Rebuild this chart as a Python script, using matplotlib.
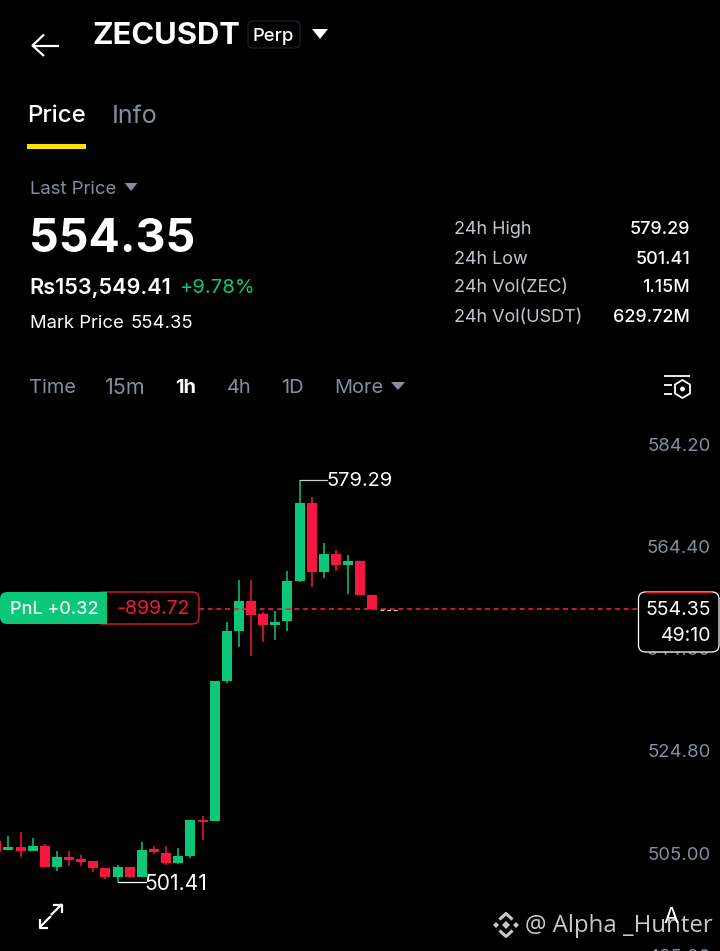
import matplotlib
matplotlib.use("Agg")
import matplotlib.pyplot as plt
from matplotlib.patches import FancyBboxPatch, Polygon, Circle

plt.rcParams['font.family'] = ['Inter', 'DejaVu Sans']

opens = [509.40, 507.56, 508.26, 507.49, 508.45, 504.33, 506.27, 505.82, 505.49, 504.13, 502.45, 504.27,
         502.39, 507.81, 507.10, 505.16, 506.52, 513.49, 513.30, 540.41, 549.98, 555.79, 553.28, 551.20,
         551.92, 559.73, 574.78, 561.41, 564.96, 562.83, 563.54, 556.95]
closes = [507.50, 508.26, 507.43, 508.45, 504.33, 506.21, 505.62, 505.35, 504.19, 502.39, 504.27, 502.39,
          507.68, 507.23, 505.16, 506.46, 513.43, 513.10, 540.36, 549.98, 555.85, 553.20, 551.20, 551.73,
          559.67, 574.78, 561.47, 565.01, 562.83, 563.54, 557.01, 554.35]
highs = [509.40, 510.33, 511.17, 509.89, 508.72, 507.43, 507.43, 506.59, 505.49, 504.13, 504.72, 504.39,
         509.17, 508.40, 508.40, 507.95, 513.43, 514.21, 540.36, 551.73, 559.86, 559.86, 553.66, 553.97,
         561.61, 579.29, 575.94, 567.15, 565.73, 564.70, 563.54, 556.95]
lows = [507.50, 507.56, 506.32, 507.49, 504.33, 503.61, 504.52, 504.52, 503.30, 502.00, 501.41, 502.20,
        502.39, 506.85, 504.77, 504.97, 506.13, 509.56, 513.30, 539.91, 547.00, 545.26, 547.97, 548.24,
        550.10, 559.50, 558.62, 560.37, 561.66, 557.27, 557.01, 554.11]
axis_prices = [584.20, 564.40, 544.60, 524.80, 505.00, 485.20]
axis_labels = ['584.20', '564.40', '544.60', '524.80', '505.00', '485.20']
last_price = 554.35
high_price = 579.29
low_price = 501.41
stats_names = ['24h High', '24h Low', '24h Vol(ZEC)', '24h Vol(USDT)']
stats_values = ['579.29', '501.41', '1.15M', '629.72M']
intervals = ['Time', '15m', '1h', '4h', '1D', 'More']

GREEN = '#0BC777'
RED = '#F5173F'
GREY = '#848E9C'
PX = 0.72


def price_at(y):
    return 579.29 - (y - 480) * 0.1937


fig = plt.figure(figsize=(7.2, 9.51), dpi=100, facecolor='black')

# chart layer: x is candle index, y is price
ax = fig.add_axes([0, 0, 1, 1], facecolor='black', zorder=1)
x_step = 12.13
x_zero = -3.7
ax.set_xlim((0 - x_zero) / x_step, (720 - x_zero) / x_step)
ax.set_ylim(price_at(951), price_at(0))
ax.axis('off')

xs = list(range(len(opens)))
colors = [GREEN if c >= o else RED for o, c in zip(opens, closes)]
ax.vlines(xs, lows, highs, colors=colors, linewidth=1.1, zorder=2)
ax.bar(xs, [abs(c - o) for o, c in zip(opens, closes)], bottom=[min(o, c) for o, c in zip(opens, closes)],
       width=10 / x_step, color=colors, linewidth=0, zorder=3)

for price, label in zip(axis_prices, axis_labels):
    ax.annotate(label, xy=(1, price), xycoords=ax.get_yaxis_transform(), xytext=(-9 * PX, 8.5 * PX),
                textcoords='offset points', ha='right', va='center', color=GREY, fontsize=18.5 * PX,
                annotation_clip=False, zorder=2)

# high / low callouts
hi_i = highs.index(high_price)
lo_i = lows.index(low_price)
ax.plot([hi_i, hi_i + 2.3], [high_price, high_price], color='#C8CCD2', lw=0.9, zorder=4)
ax.annotate(f'{high_price:.2f}', xy=(hi_i + 2.3, high_price), xytext=(-1.5 * PX, -1.5 * PX),
            textcoords='offset points', ha='left', va='center', color='white', fontsize=20 * PX, zorder=5)
ax.plot([lo_i, lo_i + 2.35], [low_price, low_price], color='white', lw=0.9, zorder=4)
ax.annotate(f'{low_price:.2f}', xy=(lo_i + 2.35, low_price), xytext=(-1.5 * PX, -2 * PX),
            textcoords='offset points', ha='left', va='center', color='white', fontsize=21 * PX, zorder=5)

# last price line
ax.plot([(199 - x_zero) / x_step, (638 - x_zero) / x_step], [last_price, last_price], color=RED, lw=1.2,
        dashes=(3.0, 2.2), zorder=6)
ax.plot([31.6, 33.2], [last_price - 0.2, last_price - 0.2], color='#DDDDDD', lw=0.8, dashes=(3.5, 2.5), zorder=6)

# interface layer in pixels
ui = fig.add_axes([0, 0, 1, 1], facecolor='none', zorder=2)
ui.set_xlim(0, 720)
ui.set_ylim(951, 0)
ui.axis('off')


def T(x, y, s, size, color='white', weight='normal', ha='left', family=None):
    kw = {'family': family} if family else {}
    ui.text(x, y + 2, s, fontsize=size * PX, color=color, fontweight=weight, ha=ha, va='center', zorder=10, **kw)


def tri(cx, cy, w, h, color):
    ui.add_patch(Polygon([(cx - w / 2, cy - h / 2), (cx + w / 2, cy - h / 2), (cx, cy + h / 2)], closed=True,
                         fc=color, ec='none', zorder=10))


def L(xs_, ys_, color='white', lw=1.4):
    ui.plot(xs_, ys_, color=color, lw=lw, solid_capstyle='butt', zorder=10)


# header
L([32, 59], [45.5, 45.5], lw=1.6)
L([44, 32.5, 44], [34.5, 45.5, 56], lw=1.6)
T(92.5, 34.5, 'ZECUSDT', 31, weight='bold')
ui.add_patch(FancyBboxPatch((248, 21), 52, 27, boxstyle='round,pad=0,rounding_size=5', fc='black', ec='#1B2130',
                            lw=0.9, zorder=9))
T(253, 34.5, 'Perp', 18.5, weight='medium')
tri(320, 34, 16, 10, 'white')

T(27, 114.5, 'Price', 24, weight='medium')
T(112, 114.5, 'Info', 25, color=GREY)
ui.add_patch(FancyBboxPatch((27, 143.5), 59, 5.5, boxstyle='square,pad=0', fc='#FCE100', ec='none', zorder=10))

T(30, 187, 'Last Price', 18.5, color=GREY)
tri(131, 187, 13, 8, GREY)
T(29, 237.5, '554.35', 46.5, weight='bold')
T(29.5, 286, 'Rs153,549.41', 21.7, weight='semibold')
T(179.5, 286, '+9.78%', 20.2, color=GREEN)
T(30, 322, 'Mark Price', 18.5)
T(131, 322, '554.35', 18.5)

for y, name, val in zip([228, 257, 286, 315], stats_names, stats_values):
    T(454, y, name, 18, color='#C3C8D0')
    T(690, y, val, 18, weight='medium', ha='right')

for x, s in zip([29, 105, 175, 227, 281, 334], intervals):
    active = s == '1h'
    size = 21.5 if s == '15m' else 20
    T(x, 386, s, size, color='white' if active else GREY, weight='bold' if active else 'normal')
tri(398, 386, 14, 8, GREY)

# settings icon
L([664, 690], [375.5, 375.5], lw=1.3)
L([664, 672], [385, 385], lw=1.3)
L([664, 672], [393.5, 393.5], lw=1.3)
ui.add_patch(Polygon([(682.5, 380), (690, 384.5), (690, 393.5), (682.5, 398), (675, 393.5), (675, 384.5)],
                     closed=True, fc='none', ec='white', lw=1.3, zorder=10))
ui.add_patch(Circle((682.5, 389), 2.4, fc='white', ec='none', zorder=10))

# PnL pill
ui.add_patch(FancyBboxPatch((95, 592), 104, 32, boxstyle='round,pad=0,rounding_size=7', fc='black', ec=RED,
                            lw=0.9, zorder=8))
ui.add_patch(FancyBboxPatch((0, 592), 107, 32, boxstyle='round,pad=0,rounding_size=7', fc=GREEN, ec='none',
                            zorder=9))
ui.add_patch(FancyBboxPatch((95, 592), 12, 32, boxstyle='square,pad=0', fc=GREEN, ec='none', zorder=9))
T(9.5, 607, 'PnL +0.32', 18, weight='medium', color='#E8FFF5')
T(117, 607, '-899.72', 19.5, color=RED)

# price box
ui.add_patch(FancyBboxPatch((638.5, 592), 80.5, 60, boxstyle='round,pad=0,rounding_size=7', fc='black',
                            ec='white', lw=0.9, zorder=8))
L([645, 712], [592, 592], color=RED, lw=1.0)
T(711, 608, '554.35', 19.5, ha='right')
T(711, 634, '49:10', 19.5, ha='right')

# expand icon
L([40, 51], [927, 916], lw=1.6)
L([40, 40, 48], [919, 927.5, 927.5], lw=1.6)
L([51, 62], [915, 904], lw=1.6)
L([53, 62, 62], [904.5, 904.5, 913], lw=1.6)

# watermark
WM = '#C8C8C8'
for cx, cy, r in [(506, 925, 4), (496, 925, 3), (516, 925, 3)]:
    ui.add_patch(Polygon([(cx, cy - r), (cx + r, cy), (cx, cy + r), (cx - r, cy)], closed=True, fc=WM, ec='none',
                         zorder=10))
L([499.5, 506, 512.5], [919.5, 913.5, 919.5], color=WM, lw=2.2)
L([499.5, 506, 512.5], [930.5, 936.5, 930.5], color=WM, lw=2.2)
T(525, 924.5, '@ Alpha _Hunter', 24, color=WM, family='Open Sans')
T(671, 915, 'A', 22, color='white', ha='center')

fig.savefig('out.png', dpi=100, facecolor='black')
